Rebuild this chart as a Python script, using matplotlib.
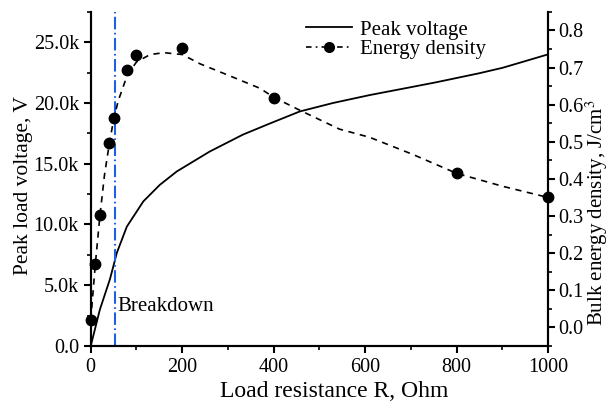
import matplotlib
matplotlib.use("Agg")
import matplotlib.pyplot as plt
from matplotlib.lines import Line2D
from matplotlib.ticker import MultipleLocator, FuncFormatter

plt.rcParams['font.family'] = ['Liberation Serif', 'DejaVu Serif']
plt.rcParams['mathtext.fontset'] = 'stix'
plt.rcParams['lines.scale_dashes'] = False

# Peak voltage curve
r_volt = [0, 20, 42, 49, 57, 79, 115, 151, 188, 260, 333, 391, 457, 530, 610, 700, 755, 850, 901, 1000]
v_volt = [0, 3000, 5500, 6500, 7660, 9830, 11900, 13260, 14360, 16000, 17400, 18300, 19300, 20000, 20650,
          21300, 21700, 22450, 22900, 24000]

# Energy density measured points
r_pts = [0, 10, 20, 40, 50, 80, 100, 200, 400, 800, 1000]
e_pts = [0.019, 0.171, 0.304, 0.498, 0.563, 0.692, 0.733, 0.753, 0.618, 0.415, 0.350]

# Energy density fitted dashed curve
r_fit = [0, 10, 20, 30, 40, 50, 60, 80, 100, 130, 160, 200, 239, 311, 370, 400, 457, 544, 610, 704, 800, 901, 1000]
e_fit = [0.02, 0.17, 0.30, 0.41, 0.49, 0.56, 0.61, 0.68, 0.715, 0.735, 0.74, 0.735, 0.71, 0.674, 0.644, 0.62,
         0.585, 0.534, 0.512, 0.466, 0.415, 0.38, 0.35]

breakdown_r = 54

fig = plt.figure(figsize=(6.09, 4.08), dpi=100)
ax = fig.add_axes([0.149, 0.152, 0.751, 0.819])
ax2 = ax.twinx()

ax.plot(r_volt, v_volt, color='black', lw=1.3)
ax.axvline(breakdown_r, color='#1f5fe6', lw=1.5, dashes=(9, 2.5, 1.2, 2.5))
ax.text(breakdown_r + 4, 3250, 'Breakdown', fontsize=15, va='center', ha='left')

ax2.plot(r_fit, e_fit, color='black', lw=1.2, dashes=(4.5, 4))
ax2.plot(r_pts, e_pts, 'o', color='black', ms=7.5, clip_on=False)

ax.set_xlim(0, 1000)
ax.set_ylim(0, 27500)
ax2.set_ylim(-0.05, 0.85)

ax.xaxis.set_major_locator(MultipleLocator(200))
ax.xaxis.set_minor_locator(MultipleLocator(100))
ax.yaxis.set_major_locator(MultipleLocator(5000))
ax.yaxis.set_minor_locator(MultipleLocator(2500))
ax.yaxis.set_major_formatter(FuncFormatter(lambda v, p: '0.0' if v == 0 else f'{v/1000:.1f}k'))
ax2.yaxis.set_major_locator(MultipleLocator(0.1))
ax2.yaxis.set_minor_locator(MultipleLocator(0.05))
ax2.yaxis.set_major_formatter(FuncFormatter(lambda v, p: f'{v:.1f}'))

for a in (ax, ax2):
    for s in a.spines.values():
        s.set_linewidth(1.5)
    a.spines['top'].set_visible(False)
    a.tick_params(which='major', direction='out', length=5, width=1.5, labelsize=14.5)
    a.tick_params(which='minor', direction='out', length=3, width=1.2)
ax2.tick_params(which='major', pad=2)

ax.set_xlabel('Load resistance R, Ohm', fontsize=17)
ax.xaxis.set_label_coords(0.533, -0.105)
ax.set_ylabel('Peak load voltage, V', fontsize=15.5)
ax.yaxis.set_label_coords(-0.127, 0.48)
ax2.set_ylabel('Bulk energy density, J/cm$^3$', fontsize=15)
ax2.yaxis.set_label_coords(1.0766, 0.40)

handles = [Line2D([], [], color='black', lw=1.3),
           Line2D([], [], color='black', lw=1.2, dashes=(4, 3, 1.2, 3), marker='o', ms=7)]
ax.legend(handles, ['Peak voltage', 'Energy density'], loc='upper left',
          bbox_to_anchor=(0.462, 0.988), frameon=False, fontsize=15,
          handlelength=2.2, handletextpad=0.4, labelspacing=0.0,
          borderaxespad=0.0, borderpad=0.2)

fig.savefig('out.png', dpi=100)
